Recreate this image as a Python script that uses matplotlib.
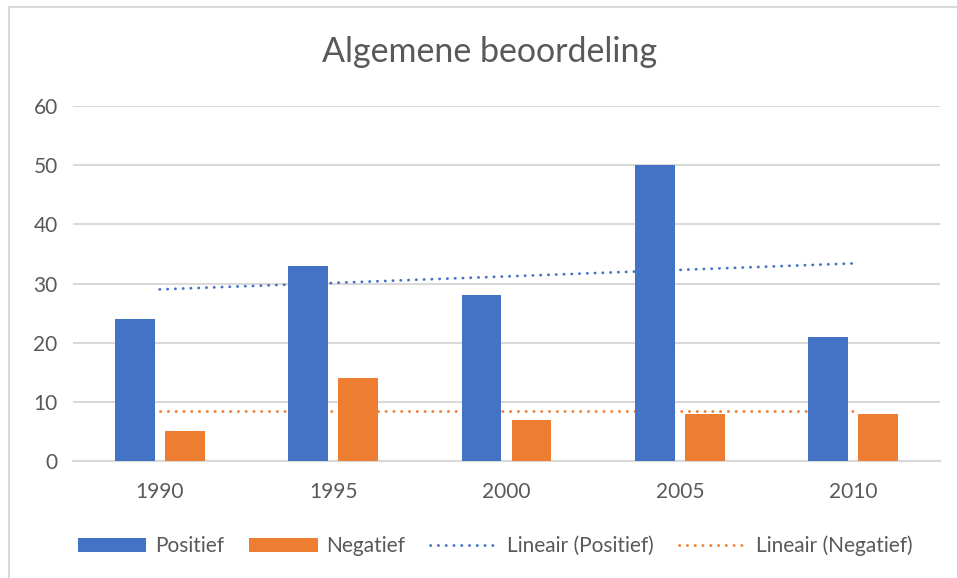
import numpy as np
import matplotlib
matplotlib.use("Agg")
import matplotlib.pyplot as plt
from matplotlib.lines import Line2D
from matplotlib.patches import Patch, Rectangle

categories = ["1990", "1995", "2000", "2005", "2010"]
positief = [24, 33, 28, 50, 21]
negatief = [5, 14, 7, 8, 8]
title = "Algemene beoordeling"

BLUE = "#4472C4"
ORANGE = "#ED7D31"
GRID = "#D9D9D9"
TEXT = "#595959"
plt.rcParams["font.family"] = ["Lato", "DejaVu Sans"]

W, H = 957, 578
fig = plt.figure(figsize=(W / 100, H / 100), dpi=100)
ax = fig.add_axes([73 / W, (H - 461) / H, (940 - 73) / W, (461 - 106) / H])

x = np.arange(len(categories))
bw = 0.23
off = 0.144
ax.bar(x - off, positief, width=bw, color=BLUE, zorder=3)
ax.bar(x + off, negatief, width=bw, color=ORANGE, zorder=3)

dot = (0, (0.1, 2.7))
# linear trendlines (least squares, like Excel)
for vals, col in ((positief, BLUE), (negatief, ORANGE)):
    k, b = np.polyfit(x, vals, 1)
    ax.plot(x, k * x + b, color=col, lw=2.0, linestyle=dot,
            dash_capstyle="round", zorder=2)

ax.set_xlim(-0.5, len(categories) - 0.5)
ax.set_ylim(0, 60)
ax.set_yticks(range(0, 61, 10))
ax.set_xticks(x)
ax.set_xticklabels(categories)
ax.yaxis.grid(True, color=GRID, lw=1.5, zorder=0)
ax.set_axisbelow(True)
for s in ("top", "right", "left"):
    ax.spines[s].set_visible(False)
ax.spines["bottom"].set_color(GRID)
ax.spines["bottom"].set_linewidth(1.5)
ax.tick_params(axis="both", length=0, colors=TEXT, labelsize=15)
ax.tick_params(axis="y", pad=11)
ax.tick_params(axis="x", pad=15)

fig.text(490 / W, 1 - 52 / H, title, ha="center", va="center", fontsize=24.5, color=TEXT)

handles = [
    Patch(facecolor=BLUE, label="Positief"),
    Patch(facecolor=ORANGE, label="Negatief"),
    Line2D([], [], color=BLUE, lw=2.0, linestyle=dot, dash_capstyle="round", label="Lineair (Positief)"),
    Line2D([], [], color=ORANGE, lw=2.0, linestyle=dot, dash_capstyle="round", label="Lineair (Negatief)"),
]
leg = fig.legend(handles=handles, loc="center", bbox_to_anchor=(495 / W, 1 - 546 / H), ncol=4,
                 frameon=False, fontsize=15, handlelength=3.3, handletextpad=0.4,
                 columnspacing=1.2)
for t in leg.get_texts():
    t.set_color(TEXT)

fig.add_artist(Rectangle((9 / W, -0.01), 1.0, 1 - 7 / H + 0.01, transform=fig.transFigure,
                         fill=False, edgecolor=GRID, lw=1.5))

fig.savefig("out.png", dpi=100, facecolor="white")
